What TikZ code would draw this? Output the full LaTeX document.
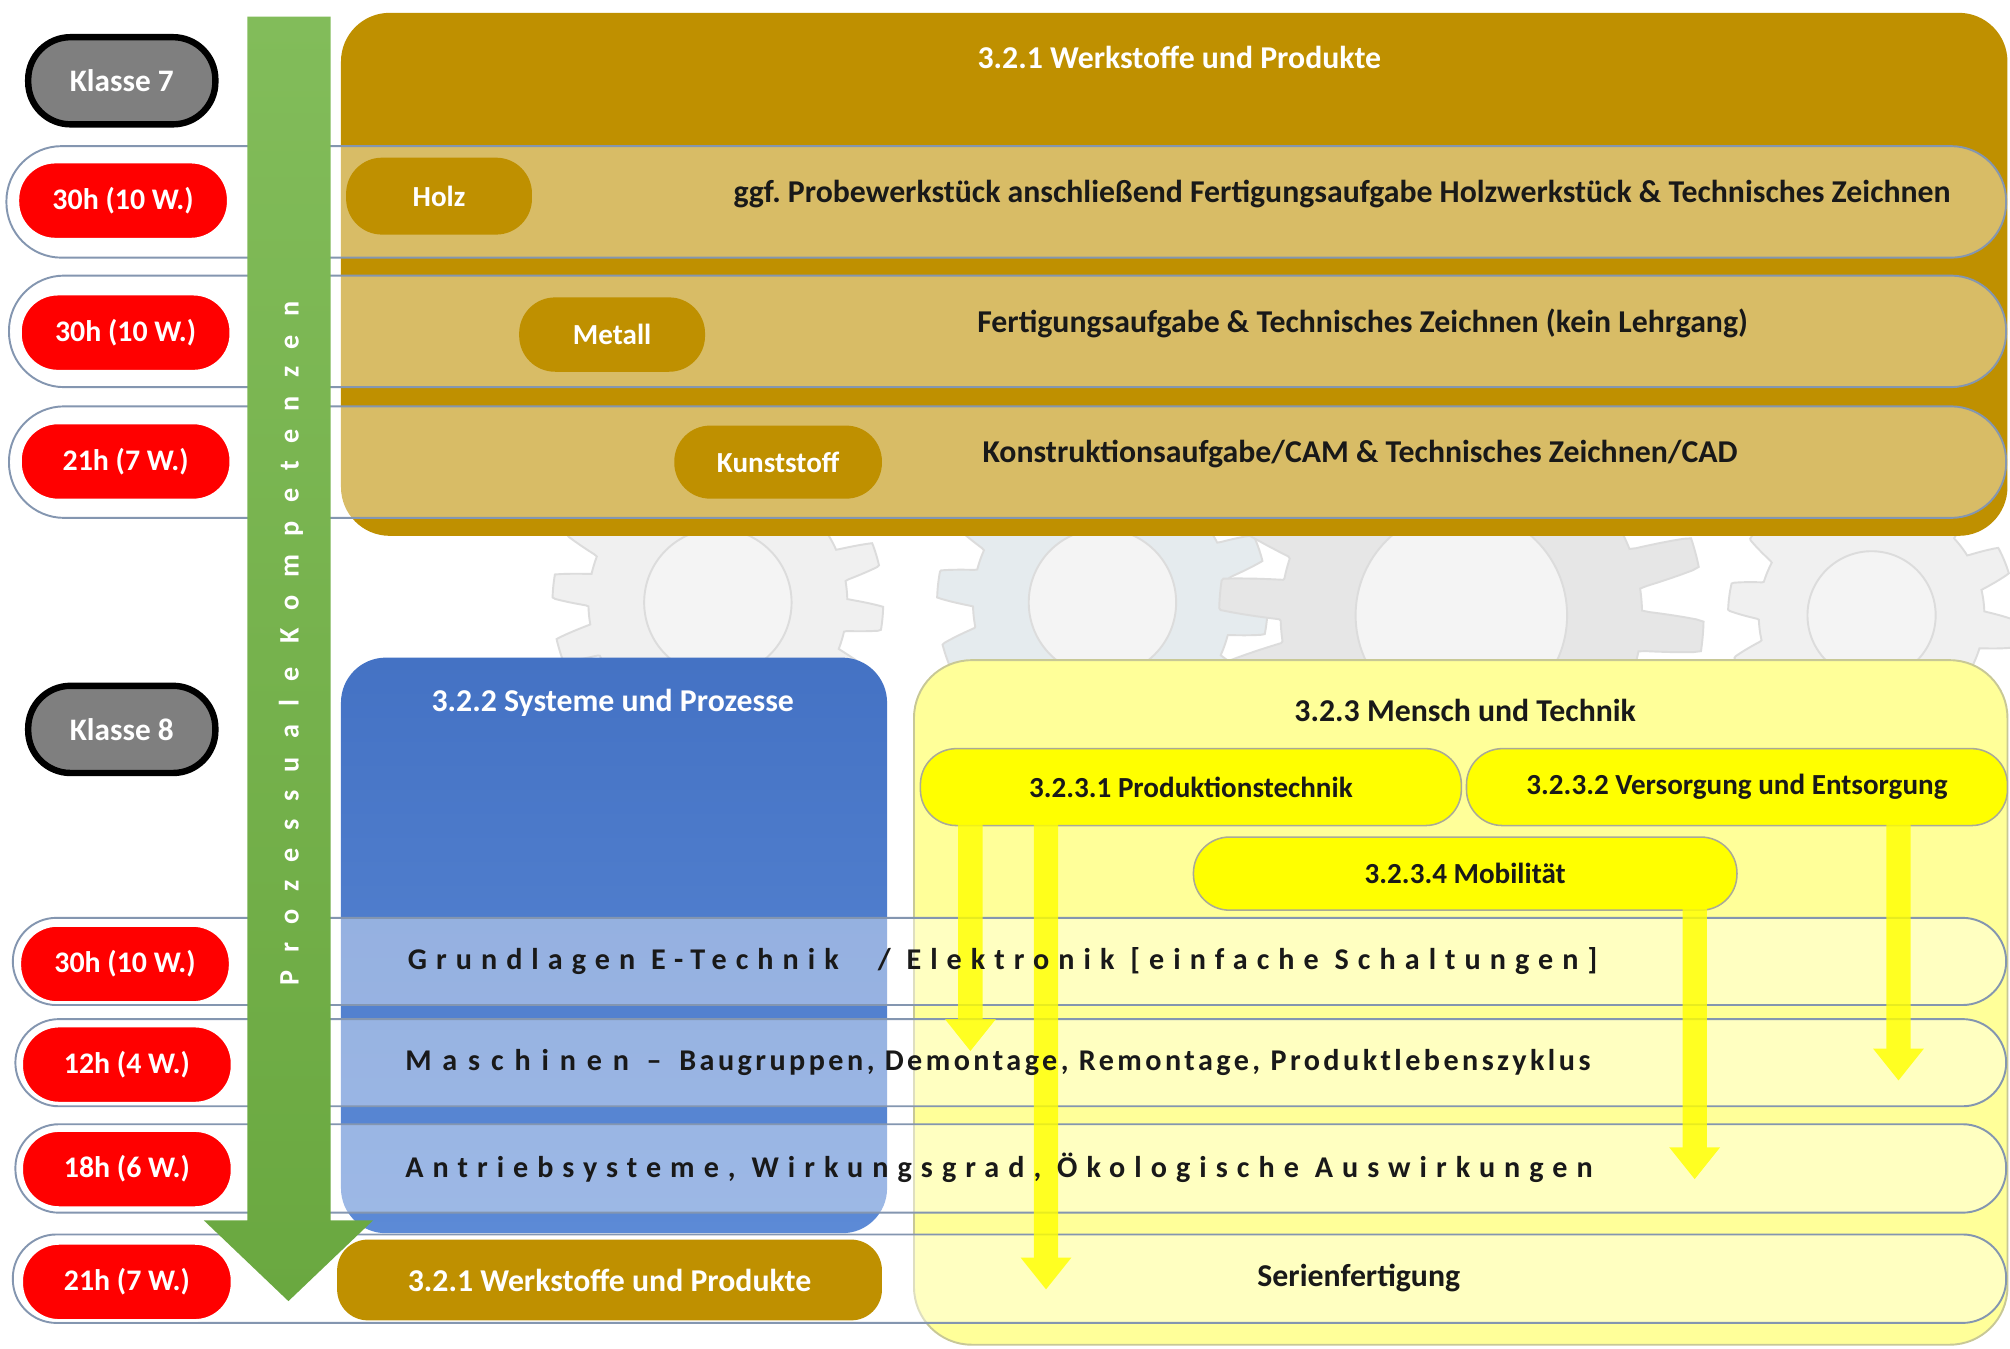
\documentclass[tikz,border=0pt]{standalone}
\usepackage{fontspec}
\setmainfont{Carlito}
\usetikzlibrary{arrows.meta,calc}
\frenchspacing
\definecolor{brownC}{RGB}{191,144,0}
\definecolor{blueC}{RGB}{68,114,196}
\definecolor{blueL}{RGB}{92,138,214}
\definecolor{yellowL}{RGB}{255,255,153}
\definecolor{yellowB}{RGB}{255,255,0}
\definecolor{yellowLine}{RGB}{200,200,150}
\definecolor{pillLine}{RGB}{170,170,150}
\definecolor{greenC}{RGB}{106,168,64}
\definecolor{greenL}{RGB}{130,188,90}
\definecolor{rowline}{RGB}{132,150,176}
\definecolor{redC}{RGB}{255,0,0}
\definecolor{grayC}{RGB}{127,127,127}
\definecolor{txt}{RGB}{25,25,25}
\definecolor{gearA}{RGB}{240,240,240}
\definecolor{gearB}{RGB}{229,235,238}
\definecolor{gearC}{RGB}{230,230,230}
\definecolor{gearH}{RGB}{244,244,244}
\definecolor{gearLine}{RGB}{220,220,220}
\begin{document}
\begin{tikzpicture}[x=1pt,y=-1pt,
  every node/.style={font=\fontsize{24.8}{28}\selectfont\bfseries, inner sep=0pt},
  pillfont/.style={font=\fontsize{22.7}{26}\selectfont\bfseries},
  rowband/.style={draw=rowline, line width=1.5pt, fill=white, fill opacity=0.4},
  redpill/.style={pillfont, fill=redC, draw=white, line width=2pt, text=white, rounded corners=29pt, minimum width=164pt, minimum height=60pt, font=\fontsize{23.3}{26}\selectfont\bfseries},
  klasse/.style={fill=grayC, draw=black, line width=5pt, text=white, rounded corners=33pt, minimum width=146pt, minimum height=68pt, font=\fontsize{24.4}{28}\selectfont\bfseries},
  brownpill/.style={pillfont, fill=brownC, text=white, rounded corners=28pt, minimum height=58pt},
  ypill/.style={pillfont, fill=yellowB, draw=pillLine, line width=1.2pt, text=txt, rounded corners=28pt, minimum height=60pt},
  rowtext/.style={text=txt, anchor=west, font=\fontsize{23.5}{28}\selectfont\bfseries},
  yarrow/.style={draw=yellowB, line width=19pt, -{Triangle[width=38pt,length=25pt]}},
]
\useasboundingbox (0,0) rectangle (1568,1052);
\fill[white] (0,0) rectangle (1568,1052);

% faint gear watermark
\foreach \cx/\cy/\r/\h/\n/\col in {560/470/115/14/16/gearA, 860/470/115/14/14/gearB, 1140/480/165/24/18/gearC, 1460/480/100/12/12/gearA}{
  \filldraw[fill=\col, draw=gearLine, line width=1.5pt] plot[domain=0:360, samples=720]
    ({\cx+(\r+\h*max(-1,min(1,2.5*sin(\n*\x))))*cos(\x)}, {\cy+(\r+\h*max(-1,min(1,2.5*sin(\n*\x))))*sin(\x)}) -- cycle;
  \filldraw[fill=gearH, draw=gearLine, line width=1.5pt] (\cx,\cy) circle[radius=0.5*\r];
}

% main boxes
\node[fill=brownC, rounded corners=38pt, minimum width=1300pt, minimum height=408pt] (werk) at (916,214) {};
\node[text=white] (werkT) at (920,45) {3.2.1 Werkstoffe und Produkte};

\node[top color=blueC, bottom color=blueL, rounded corners=35pt, minimum width=426pt, minimum height=449pt] (sys) at (479,737.5) {};
\node[text=white] (sysT) at (478,548) {3.2.2 Systeme und Prozesse};

\node[fill=yellowL, draw=yellowLine, line width=1.5pt, rounded corners=45pt, minimum width=853pt, minimum height=534pt] (mensch) at (1139.5,782) {};
\node[text=txt] (menschT) at (1143,554) {3.2.3 Mensch und Technik};

\node[ypill, minimum width=422pt] (p1) at (929,614) {3.2.3.1 Produktionstechnik};
\node[ypill, minimum width=422pt] (p2) at (1355,614) {3.2.3.2 Versorgung und Entsorgung};
\node[ypill, minimum width=424pt, minimum height=57pt] (p4) at (1143,681.5) {3.2.3.4 Mobilität};

% row bands
\node[rowband, rounded corners=43pt, minimum width=1560pt, minimum height=87pt] (row1) at (785,157.5) {};
\node[rowband, rounded corners=43pt, minimum width=1558pt, minimum height=87pt] (row2) at (786,258.5) {};
\node[rowband, rounded corners=43pt, minimum width=1558pt, minimum height=87pt] (row3) at (786,360.5) {};
\node[rowband, rounded corners=34pt, minimum width=1555pt, minimum height=68pt] (row4) at (787.5,750) {};
\node[rowband, rounded corners=34pt, minimum width=1553pt, minimum height=68pt] (row5) at (788.5,829) {};
\node[rowband, rounded corners=34pt, minimum width=1553pt, minimum height=69pt] (row6) at (788.5,911.5) {};
\node[rowband, rounded corners=34pt, minimum width=1555pt, minimum height=69pt] (row7) at (787.5,997.5) {};

% yellow arrows
\coordinate (a1e) at (757,820);
\coordinate (a2e) at (816,1006);
\coordinate (a3e) at (1322,920);
\coordinate (a4e) at (1481,843);
\begin{scope}[transparency group, opacity=0.82]
\draw[yarrow] ($(p1.south -| a1e)+(0,-3)$) -- (a1e);
\draw[yarrow] ($(p1.south -| a2e)+(0,-3)$) -- (a2e);
\draw[yarrow] ($(p4.south -| a3e)+(0,-3)$) -- (a3e);
\draw[yarrow] ($(p2.south -| a4e)+(0,-3)$) -- (a4e);
\end{scope}

% green arrow
\shade[top color=greenL, bottom color=greenC] (193,13) -- (258,13) -- (258,952) -- (291,952) -- (225,1015) -- (159,952) -- (193,952) -- cycle;
\node[text=white, rotate=90, font=\fontsize{22}{26}\selectfont\bfseries] (prozT) at (227,502) {\addfontfeatures{LetterSpace=64}Prozessuale Kompetenzen};

% Klasse
\node[klasse] (k7) at (95,63) {Klasse 7};
\node[klasse] (k8) at (95,569) {Klasse 8};

% hours
\node[redpill] (h1) at (96,156.5) {30h (10 W.)};
\node[redpill] (h2) at (98,259.5) {30h (10 W.)};
\node[redpill] (h3) at (98,360) {21h (7 W.)};
\node[redpill] (h4) at (97.5,752) {30h (10 W.)};
\node[redpill] (h5) at (99,830.5) {12h (4 W.)};
\node[redpill] (h6) at (99,912) {18h (6 W.)};
\node[redpill] (h7) at (99,1000) {21h (7 W.)};

% Klasse 7 contents
\node[brownpill, minimum width=145pt, minimum height=60pt] (holz) at (342.5,153) {Holz};
\node[brownpill, minimum width=145pt] (metall) at (477.5,261) {Metall};
\node[brownpill, minimum width=162pt, minimum height=57pt] (kunst) at (607,360.5) {Kunststoff};
\node[text=txt] (t1) at (1047,151) {ggf. Probewerkstück anschließend Fertigungsaufgabe Holzwerkstück \& Technisches Zeichnen};
\node[text=txt] (t2) at (1063,252) {Fertigungsaufgabe \& Technisches Zeichnen (kein Lehrgang)};
\node[text=txt] (t3) at (1061,354) {Konstruktionsaufgabe/CAM \& Technisches Zeichnen/CAD};

% Klasse 8 contents
\node[rowtext] (t4) at (318,750) {\addfontfeatures{LetterSpace=30}Grundlagen E-Technik\hspace{18pt} / Elektronik [einfache Schaltungen]};
\node[rowtext] (t5) at (316,829) {{\addfontfeatures{LetterSpace=36}Maschinen – }{\addfontfeatures{LetterSpace=11.5}Baugruppen, Demontage, Remontage, Produktlebenszyklus}};
\node[rowtext] (t6) at (316,911) {\addfontfeatures{LetterSpace=30}Antriebsysteme, Wirkungsgrad, Ökologische Auswirkungen};
\node[text=txt] (t7) at (1060,997) {Serienfertigung};
\node[brownpill, font=\fontsize{24.8}{28}\selectfont\bfseries, rounded corners=24pt, minimum width=425pt, minimum height=63pt] (werk2) at (475.5,998.5) {3.2.1 Werkstoffe und Produkte};
\end{tikzpicture}
\end{document}
